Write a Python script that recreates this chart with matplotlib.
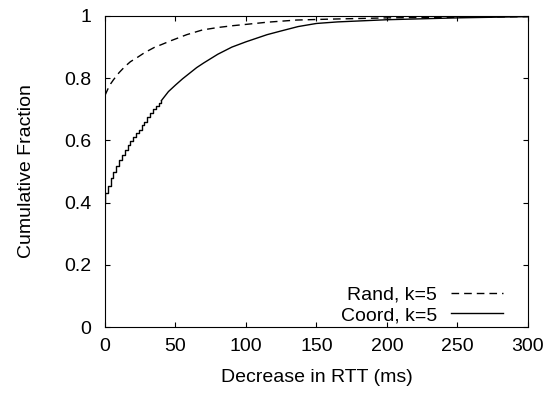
import matplotlib
matplotlib.use("Agg")
import matplotlib.pyplot as plt

plt.rcParams['font.family'] = ['Liberation Sans', 'DejaVu Sans']
plt.rcParams['lines.scale_dashes'] = False

# CDF of RTT decrease (ms) for the two neighbour-selection schemes
# fine-grained head of the Coord curve (staircase region)
coord_head_x = [0, 2, 4, 6, 8, 10, 12, 14, 16, 18, 20, 22, 24, 26, 28, 30, 32, 34, 36, 38, 40]
coord_head_y = [0.43, 0.455, 0.478, 0.497, 0.518, 0.537, 0.553, 0.570, 0.585, 0.597, 0.610,
                0.623, 0.635, 0.648, 0.660, 0.676, 0.688, 0.700, 0.711, 0.720, 0.728]
# smoother tail of the Coord curve
coord_tail_x = [40, 45, 50, 55, 60, 65, 70, 80, 90, 100, 115, 125, 137, 150, 165, 180, 200,
                225, 250, 275, 300]
coord_tail_y = [0.728, 0.757, 0.778, 0.798, 0.816, 0.834, 0.849, 0.877, 0.900, 0.917, 0.940,
                0.952, 0.966, 0.976, 0.981, 0.984, 0.988, 0.991, 0.994, 0.996, 0.998]

rand_x = [0, 2, 4, 6, 10, 14, 18, 23, 28, 35, 40, 47, 58, 69, 80, 91, 100, 115, 136, 160,
          181, 200, 250, 300]
rand_y = [0.745, 0.765, 0.782, 0.795, 0.818, 0.837, 0.853, 0.867, 0.882, 0.899, 0.908, 0.921,
          0.940, 0.955, 0.963, 0.969, 0.973, 0.980, 0.987, 0.990, 0.992, 0.994, 0.996, 0.998]

x_ticks = [0, 50, 100, 150, 200, 250, 300]
y_ticks = [0, 0.2, 0.4, 0.6, 0.8, 1]
y_tick_labels = ['0', '0.2', '0.4', '0.6', '0.8', '1']

fig = plt.figure(figsize=(5.51, 3.94), dpi=100)
ax = fig.add_axes([0.1906, 0.170, 0.958 - 0.1906, 0.9594 - 0.170])

ax.plot(rand_x, rand_y, color='black', lw=1.0, linestyle=(0, (5.5, 3.6)),
        label='Rand, k=5')
ax.plot([0] + coord_head_x, [0.40] + coord_head_y, color='black', lw=1.0,
        drawstyle='steps-post', label='Coord, k=5')
ax.plot(coord_tail_x, coord_tail_y, color='black', lw=1.0)

ax.set_xlim(0, 300)
ax.set_ylim(0, 1)
ax.set_xticks(x_ticks)
ax.set_yticks(y_ticks)
ax.set_yticklabels(y_tick_labels)
ax.tick_params(direction='in', length=3.6, width=0.8, top=True, right=True,
               labelsize=14, pad=8)
ax.tick_params(axis='y', pad=10)
for s in ax.spines.values():
    s.set_linewidth(0.8)

ax.set_xlabel('Decrease in RTT (ms)', fontsize=14, labelpad=10)
ax.set_ylabel('Cumulative Fraction', fontsize=14, labelpad=21)

ax.legend(loc='lower right', frameon=False, markerfirst=False, fontsize=14,
          handlelength=2.7, handletextpad=0.7, labelspacing=0.15,
          borderaxespad=0.3, bbox_to_anchor=(0.974, -0.035))

fig.savefig('out.png', dpi=100)
